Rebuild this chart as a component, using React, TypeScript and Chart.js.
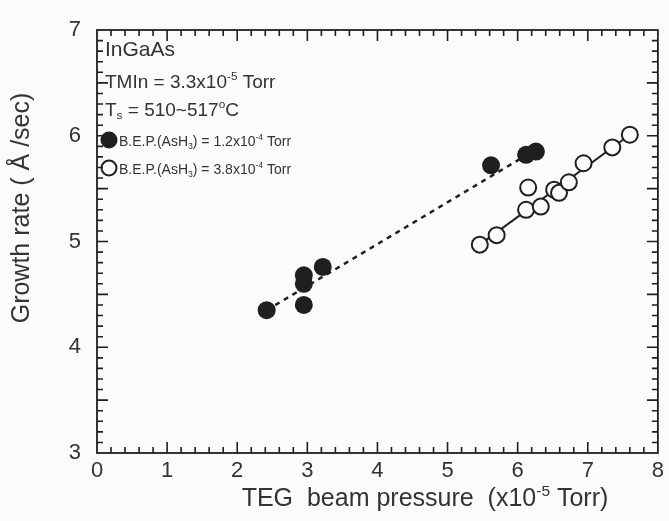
import React, { useEffect, useRef } from 'react';
import { Chart, registerables } from 'chart.js';

Chart.register(...registerables);

// Growth-rate measurements, TEG beam pressure (x10^-5 Torr) vs growth rate (Å/sec)
const filledX = [2.42, 2.95, 2.95, 2.95, 3.22, 5.62, 6.12, 6.26];
const filledY = [4.35, 4.4, 4.6, 4.68, 4.76, 5.72, 5.82, 5.85];
const openX = [5.46, 5.7, 6.12, 6.15, 6.33, 6.52, 6.59, 6.73, 6.94, 7.35, 7.6];
const openY = [4.97, 5.06, 5.3, 5.51, 5.33, 5.49, 5.46, 5.56, 5.74, 5.89, 6.01];

// Linear trend lines for the two AsH3 pressures
const fitFilledX = [2.42, 6.26];
const fitFilledY = [4.35, 5.87];
const fitOpenX = [5.46, 7.6];
const fitOpenY = [4.97, 6.01];

const xRange = [0, 8];
const yRange = [3, 7];

const INK = '#1f1f1f';
const TEXT = '#333333';
const BG = '#fbfbfa';
const FONT = '"Liberation Sans", Arial, Helvetica, sans-serif';

type Run = { t: string; sup?: boolean; sub?: boolean };

function runsWidth(ctx: CanvasRenderingContext2D, runs: Run[], size: number) {
  let w = 0;
  for (const r of runs) {
    const s = r.sup || r.sub ? size * 0.62 : size;
    ctx.font = `${s}px ${FONT}`;
    w += ctx.measureText(r.t).width;
  }
  return w;
}

function drawRuns(
  ctx: CanvasRenderingContext2D,
  x: number,
  y: number,
  runs: Run[],
  size: number,
  align: 'left' | 'center' = 'left'
) {
  let cx = align === 'center' ? x - runsWidth(ctx, runs, size) / 2 : x;
  ctx.textAlign = 'left';
  ctx.textBaseline = 'alphabetic';
  for (const r of runs) {
    const s = r.sup || r.sub ? size * 0.62 : size;
    const dy = r.sup ? -size * 0.42 : r.sub ? size * 0.18 : 0;
    ctx.font = `${s}px ${FONT}`;
    ctx.fillText(r.t, cx, y + dy);
    cx += ctx.measureText(r.t).width;
  }
}

const framePlugin = {
  id: 'frame',
  beforeDraw(chart: any) {
    const { ctx, width, height } = chart;
    ctx.save();
    ctx.fillStyle = BG;
    ctx.fillRect(0, 0, width, height);
    ctx.restore();
  },
  afterDraw(chart: any) {
    const { ctx, chartArea: a } = chart;
    const xs = chart.scales.x;
    const ys = chart.scales.y;
    ctx.save();
    ctx.strokeStyle = INK;
    ctx.lineWidth = 1.8;
    ctx.strokeRect(a.left, a.top, a.right - a.left, a.bottom - a.top);

    ctx.lineWidth = 1.6;
    ctx.beginPath();
    // x ticks: major every 1, minor every 0.2, on bottom and top edges
    for (let i = 1; i < 40; i++) {
      const v = i * 0.2;
      const px = xs.getPixelForValue(v);
      const len = i % 5 === 0 ? 11 : 6;
      ctx.moveTo(px, a.bottom);
      ctx.lineTo(px, a.bottom - len);
      ctx.moveTo(px, a.top);
      ctx.lineTo(px, a.top + len);
    }
    // y ticks: long every 0.5, minor every 0.1, on left and right edges
    for (let i = 1; i < 40; i++) {
      const v = 3 + i * 0.1;
      const py = ys.getPixelForValue(v);
      const len = i % 5 === 0 ? 11 : 6;
      ctx.moveTo(a.left, py);
      ctx.lineTo(a.left + len, py);
      ctx.moveTo(a.right, py);
      ctx.lineTo(a.right - len, py);
    }
    ctx.stroke();

    // annotation block
    ctx.fillStyle = TEXT;
    const lx = a.left + 8;
    drawRuns(ctx, lx, a.top + 26, [{ t: 'InGaAs' }], 21);
    drawRuns(ctx, lx, a.top + 58, [{ t: 'TMIn = 3.3x10' }, { t: '-5', sup: true }, { t: ' Torr' }], 19);
    drawRuns(ctx, lx, a.top + 86, [{ t: 'T' }, { t: 's', sub: true }, { t: ' = 510~517' }, { t: 'o', sup: true }, { t: 'C' }], 19);

    // legend rows
    const cxr = a.left + 12;
    const r1 = a.top + 110;
    const r2 = a.top + 138;
    ctx.fillStyle = INK;
    ctx.beginPath();
    ctx.arc(cxr, r1, 8.5, 0, Math.PI * 2);
    ctx.fill();
    ctx.lineWidth = 2;
    ctx.strokeStyle = INK;
    ctx.beginPath();
    ctx.arc(cxr, r2, 7.5, 0, Math.PI * 2);
    ctx.stroke();
    ctx.fillStyle = TEXT;
    drawRuns(ctx, cxr + 10, r1 + 6, [{ t: 'B.E.P.(AsH' }, { t: '3', sub: true }, { t: ') = 1.2x10' }, { t: '-4', sup: true }, { t: ' Torr' }], 14);
    drawRuns(ctx, cxr + 10, r2 + 6, [{ t: 'B.E.P.(AsH' }, { t: '3', sub: true }, { t: ') = 3.8x10' }, { t: '-4', sup: true }, { t: ' Torr' }], 14);

    // axis titles
    drawRuns(ctx, 425, 506, [{ t: 'TEG  beam pressure  (x10' }, { t: '-5', sup: true }, { t: ' Torr)' }], 25, 'center');
    ctx.translate(22, 208);
    ctx.rotate(-Math.PI / 2);
    ctx.font = `25px ${FONT}`;
    ctx.textAlign = 'center';
    ctx.textBaseline = 'middle';
    ctx.fillText('Growth rate ( Å /sec)', 0, 0);
    ctx.restore();
  },
};

function pts(xs: number[], ys: number[]) {
  return xs.map((x, i) => ({ x, y: ys[i] }));
}

export default function App() {
  const ref = useRef<HTMLCanvasElement>(null);

  useEffect(() => {
    if (!ref.current) return;
    const chart = new Chart(ref.current, {
      type: 'scatter',
      data: {
        datasets: [
          {
            label: 'fit 1.2e-4',
            data: pts(fitFilledX, fitFilledY),
            showLine: true,
            borderColor: INK,
            borderWidth: 2.5,
            borderDash: [5, 5],
            pointRadius: 0,
            order: 2,
          },
          {
            label: 'fit 3.8e-4',
            data: pts(fitOpenX, fitOpenY),
            showLine: true,
            borderColor: INK,
            borderWidth: 2,
            pointRadius: 0,
            order: 2,
          },
          {
            label: 'B.E.P.(AsH3) = 1.2x10-4 Torr',
            data: pts(filledX, filledY),
            pointRadius: 9,
            pointBackgroundColor: INK,
            pointBorderColor: INK,
            pointBorderWidth: 0,
            order: 1,
          },
          {
            label: 'B.E.P.(AsH3) = 3.8x10-4 Torr',
            data: pts(openX, openY),
            pointRadius: 8,
            pointBackgroundColor: BG,
            pointBorderColor: INK,
            pointBorderWidth: 2,
            order: 0,
          },
        ],
      },
      options: {
        responsive: false,
        animation: false,
        layout: { padding: { top: 30, right: 6, left: 0, bottom: 0 } },
        plugins: { legend: { display: false }, tooltip: { enabled: false } },
        scales: {
          x: {
            type: 'linear',
            min: xRange[0],
            max: xRange[1],
            grid: { display: false, drawTicks: false },
            border: { display: false },
            ticks: { stepSize: 1, color: TEXT, font: { size: 22, family: FONT }, padding: 5 },
            afterFit: (s: any) => {
              s.height = 68;
            },
          },
          y: {
            type: 'linear',
            min: yRange[0],
            max: yRange[1],
            grid: { display: false, drawTicks: false },
            border: { display: false },
            ticks: { stepSize: 1, color: TEXT, font: { size: 22, family: FONT }, padding: 16 },
            afterFit: (s: any) => {
              s.width = 97;
            },
          },
        },
      },
      plugins: [framePlugin],
    });
    return () => chart.destroy();
  }, []);

  return (
    <div style={{ position: 'absolute', left: 0, top: 0, width: 669, height: 521 }}>
      <canvas ref={ref} width={669} height={521} />
    </div>
  );
}
